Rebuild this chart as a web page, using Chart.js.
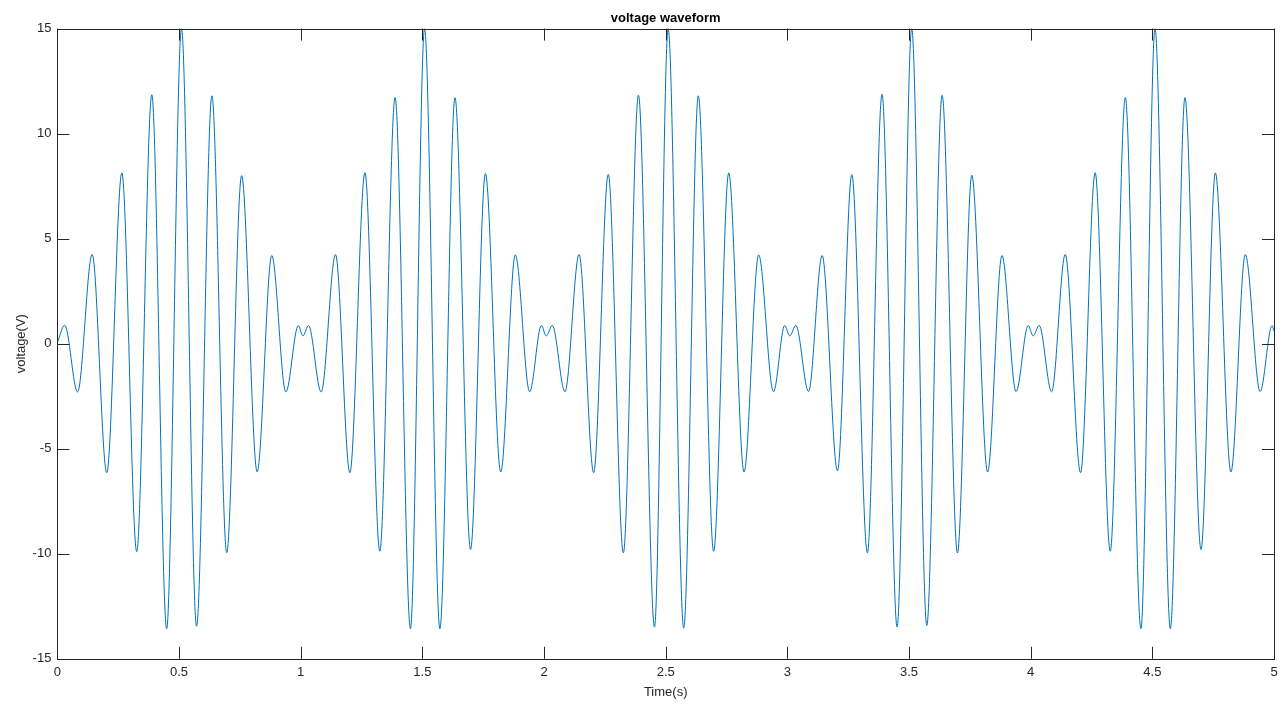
<!DOCTYPE html>
<html>
<head>
<meta charset="utf-8">
<title>voltage waveform</title>
<script src="https://cdn.jsdelivr.net/npm/chart.js@4/dist/chart.umd.min.js"></script>
<style>
  html, body { margin: 0; padding: 0; background: #fff; }
  #wrap { width: 1288px; height: 704px; }
</style>
</head>
<body>
<div id="wrap"><canvas id="wave"></canvas></div>
<script>
// turning points of the trace (time in s, voltage in V)
const times = [
  0.000, 0.030, 0.083, 0.143, 0.203, 0.265, 0.326, 0.388, 0.449, 0.510,
  0.572, 0.635, 0.696, 0.757, 0.821, 0.881, 0.939, 0.990, 1.009, 1.032,
  1.084, 1.143, 1.202, 1.264, 1.325, 1.388, 1.451, 1.509, 1.572, 1.634,
  1.698, 1.759, 1.822, 1.882, 1.941, 1.989, 2.009, 2.034,
  2.086, 2.144, 2.204, 2.264, 2.326, 2.388, 2.454, 2.510, 2.574, 2.634,
  2.697, 2.759, 2.822, 2.882, 2.943, 2.989, 3.010, 3.035,
  3.087, 3.143, 3.206, 3.265, 3.329, 3.389, 3.451, 3.511, 3.573, 3.636,
  3.699, 3.758, 3.823, 3.882, 3.940, 3.990, 4.010, 4.035,
  4.086, 4.142, 4.205, 4.265, 4.327, 4.389, 4.453, 4.511, 4.574, 4.634,
  4.700, 4.759, 4.823, 4.882, 4.943, 4.992, 5.000
];
const volts = [
  0.05, 0.88, -2.30, 4.25, -6.14, 8.13, -9.90, 11.85, -13.57, 15.0,
  -13.45, 11.80, -9.95, 8.00, -6.10, 4.20, -2.30, 0.86, 0.37, 0.87,
  -2.30, 4.24, -6.14, 8.14, -9.88, 11.72, -13.57, 15.0, -13.57, 11.71,
  -9.80, 8.10, -6.11, 4.23, -2.29, 0.87, 0.37, 0.87,
  -2.29, 4.25, -6.14, 8.06, -9.96, 11.83, -13.49, 15.0, -13.54, 11.80,
  -9.88, 8.13, -6.11, 4.23, -2.29, 0.87, 0.37, 0.87,
  -2.28, 4.20, -6.05, 8.05, -9.96, 11.88, -13.49, 15.0, -13.41, 11.83,
  -9.96, 8.02, -6.11, 4.20, -2.28, 0.87, 0.37, 0.87,
  -2.29, 4.25, -6.14, 8.14, -9.88, 11.72, -13.57, 15.0, -13.57, 11.71,
  -9.80, 8.13, -6.11, 4.25, -2.28, 0.86, 0.60
];
const xTicks = [0, 0.5, 1, 1.5, 2, 2.5, 3, 3.5, 4, 4.5, 5];
const yTicks = [-15, -10, -5, 0, 5, 10, 15];

const points = times.map((t, i) => ({ x: t, y: volts[i] }));

// MATLAB-like box with ticks pointing inward on all four sides
const boxTicks = {
  id: 'boxTicks',
  afterDatasetsDraw(chart) {
    const { ctx, chartArea: a, scales: { x, y } } = chart;
    const len = 12;
    ctx.save();
    ctx.strokeStyle = '#262626';
    ctx.lineWidth = 1;
    ctx.beginPath();
    x.ticks.forEach(t => {
      const px = Math.round(x.getPixelForValue(t.value)) + 0.5;
      ctx.moveTo(px, a.bottom); ctx.lineTo(px, a.bottom - len);
      ctx.moveTo(px, a.top); ctx.lineTo(px, a.top + len);
    });
    y.ticks.forEach(t => {
      const py = Math.round(y.getPixelForValue(t.value)) + 0.5;
      ctx.moveTo(a.left, py); ctx.lineTo(a.left + len, py);
      ctx.moveTo(a.right, py); ctx.lineTo(a.right - len, py);
    });
    ctx.stroke();
    ctx.strokeRect(Math.round(a.left) + 0.5, Math.round(a.top) + 0.5,
      Math.round(a.right - a.left), Math.round(a.bottom - a.top));
    ctx.restore();
  }
};

Chart.defaults.font.family = '"Liberation Sans", Arial, Helvetica, sans-serif';
Chart.defaults.font.size = 13;
Chart.defaults.color = '#262626';

new Chart(document.getElementById('wave'), {
  type: 'line',
  data: {
    datasets: [{
      data: points,
      borderColor: '#0072BD',
      borderWidth: 1,
      pointRadius: 0,
      fill: false,
      cubicInterpolationMode: 'monotone'
    }]
  },
  options: {
    responsive: true,
    maintainAspectRatio: false,
    animation: false,
    layout: { padding: { left: 10, right: 14, top: 11, bottom: 4 } },
    plugins: {
      legend: { display: false },
      tooltip: { enabled: false },
      title: {
        display: true,
        fullSize: false,
        text: 'voltage waveform',
        color: '#000',
        font: { size: 13, weight: 'bold' },
        padding: { top: 0, bottom: 2 }
      }
    },
    scales: {
      x: {
        type: 'linear',
        min: 0,
        max: 5,
        afterBuildTicks: s => { s.ticks = xTicks.map(v => ({ value: v })); },
        grid: { display: false, drawTicks: false },
        border: { display: false },
        ticks: { padding: 6, maxRotation: 0, autoSkip: false, callback: v => String(v) },
        title: { display: true, text: 'Time(s)', padding: { top: -2, bottom: 0 } }
      },
      y: {
        min: -15,
        max: 15,
        afterBuildTicks: s => { s.ticks = yTicks.map(v => ({ value: v })); },
        grid: { display: false, drawTicks: false },
        border: { display: false },
        ticks: { padding: 6, autoSkip: false, callback: v => String(v) },
        title: { display: true, text: 'voltage(V)', padding: { top: 4, bottom: -3 } }
      }
    }
  },
  plugins: [boxTicks]
});
</script>
</body>
</html>
